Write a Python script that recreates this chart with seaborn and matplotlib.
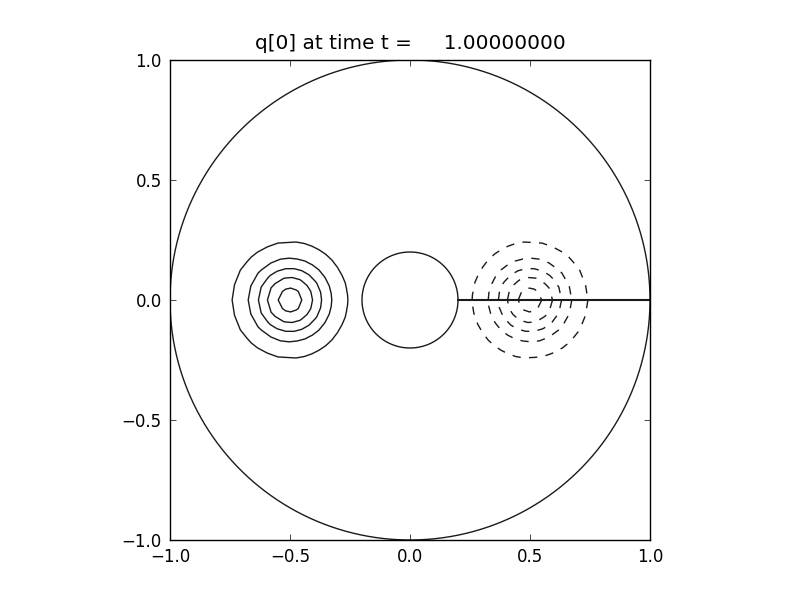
import matplotlib
matplotlib.use("Agg")
import matplotlib.pyplot as plt
import numpy as np
import pandas as pd
import seaborn as sns

# field parameters
blob_x = [-0.5, 0.5]
blob_y = [0.0, 0.0]
blob_amp = [1.0, -1.0]
blob_width = 0.158
levels = [-0.9, -0.7, -0.5, -0.3, -0.1, 0.1, 0.3, 0.5, 0.7, 0.9]

r_inner, r_outer = 0.2, 1.0
n_r, n_theta = 25, 73
title_time = 1.0

sns.set_theme(style="white", rc={
    "axes.edgecolor": "black", "axes.linewidth": 1.0,
    "text.color": "black", "xtick.color": "black", "ytick.color": "black",
    "xtick.direction": "in", "ytick.direction": "in",
    "xtick.top": True, "ytick.right": True,
    "xtick.bottom": True, "ytick.left": True,
    "xtick.major.size": 4, "ytick.major.size": 4,
    "xtick.major.width": 0.5, "ytick.major.width": 0.5,
    "xtick.major.pad": 6, "ytick.major.pad": 6,
    "font.size": 12, "xtick.labelsize": 12, "ytick.labelsize": 12,
    "axes.titlesize": 14.4, "lines.linewidth": 1.0,
})
plt.rcParams["font.family"] = ["DejaVu Sans"]

# annular mapped grid
r = np.linspace(r_inner, r_outer, n_r)
th = np.linspace(0, 2 * np.pi, n_theta)
R, TH = np.meshgrid(r, th)
X, Y = R * np.cos(TH), R * np.sin(TH)
Q = np.zeros_like(X)
for cx, cy, a in zip(blob_x, blob_y, blob_amp):
    Q += a * np.exp(-((X - cx) ** 2 + (Y - cy) ** 2) / blob_width ** 2)

fig = plt.figure(figsize=(8, 6), dpi=100)
ax = fig.add_axes([0.125, 0.1, 0.775, 0.8])

ax.contour(X, Y, Q, levels=levels, colors="k", linewidths=1.0,
           linestyles=[(0, (6, 6))] * 5 + ["-"] * 5)

# domain boundaries
phi = np.linspace(0, 2 * np.pi, 400)
outer = pd.DataFrame({"x": r_outer * np.cos(phi), "y": r_outer * np.sin(phi)})
inner = pd.DataFrame({"x": r_inner * np.cos(phi), "y": r_inner * np.sin(phi)})
seam = pd.DataFrame({"x": [r_inner, r_outer], "y": [0.0, 0.0]})
for df, lw in [(outer, 1.0), (inner, 1.0), (seam, 1.5)]:
    sns.lineplot(data=df, x="x", y="y", sort=False, estimator=None,
                 color="k", lw=lw, ax=ax)

ax.set_xlim(-1, 1)
ax.set_ylim(-1, 1)
ax.set_aspect("equal", adjustable="box")
ax.set_xticks([-1.0, -0.5, 0.0, 0.5, 1.0])
ax.set_yticks([-1.0, -0.5, 0.0, 0.5, 1.0])
ax.set_xlabel("")
ax.set_ylabel("")
ax.set_title("q[0] at time t =     %.8f" % title_time, pad=8)

fig.savefig("out.png", dpi=100)
